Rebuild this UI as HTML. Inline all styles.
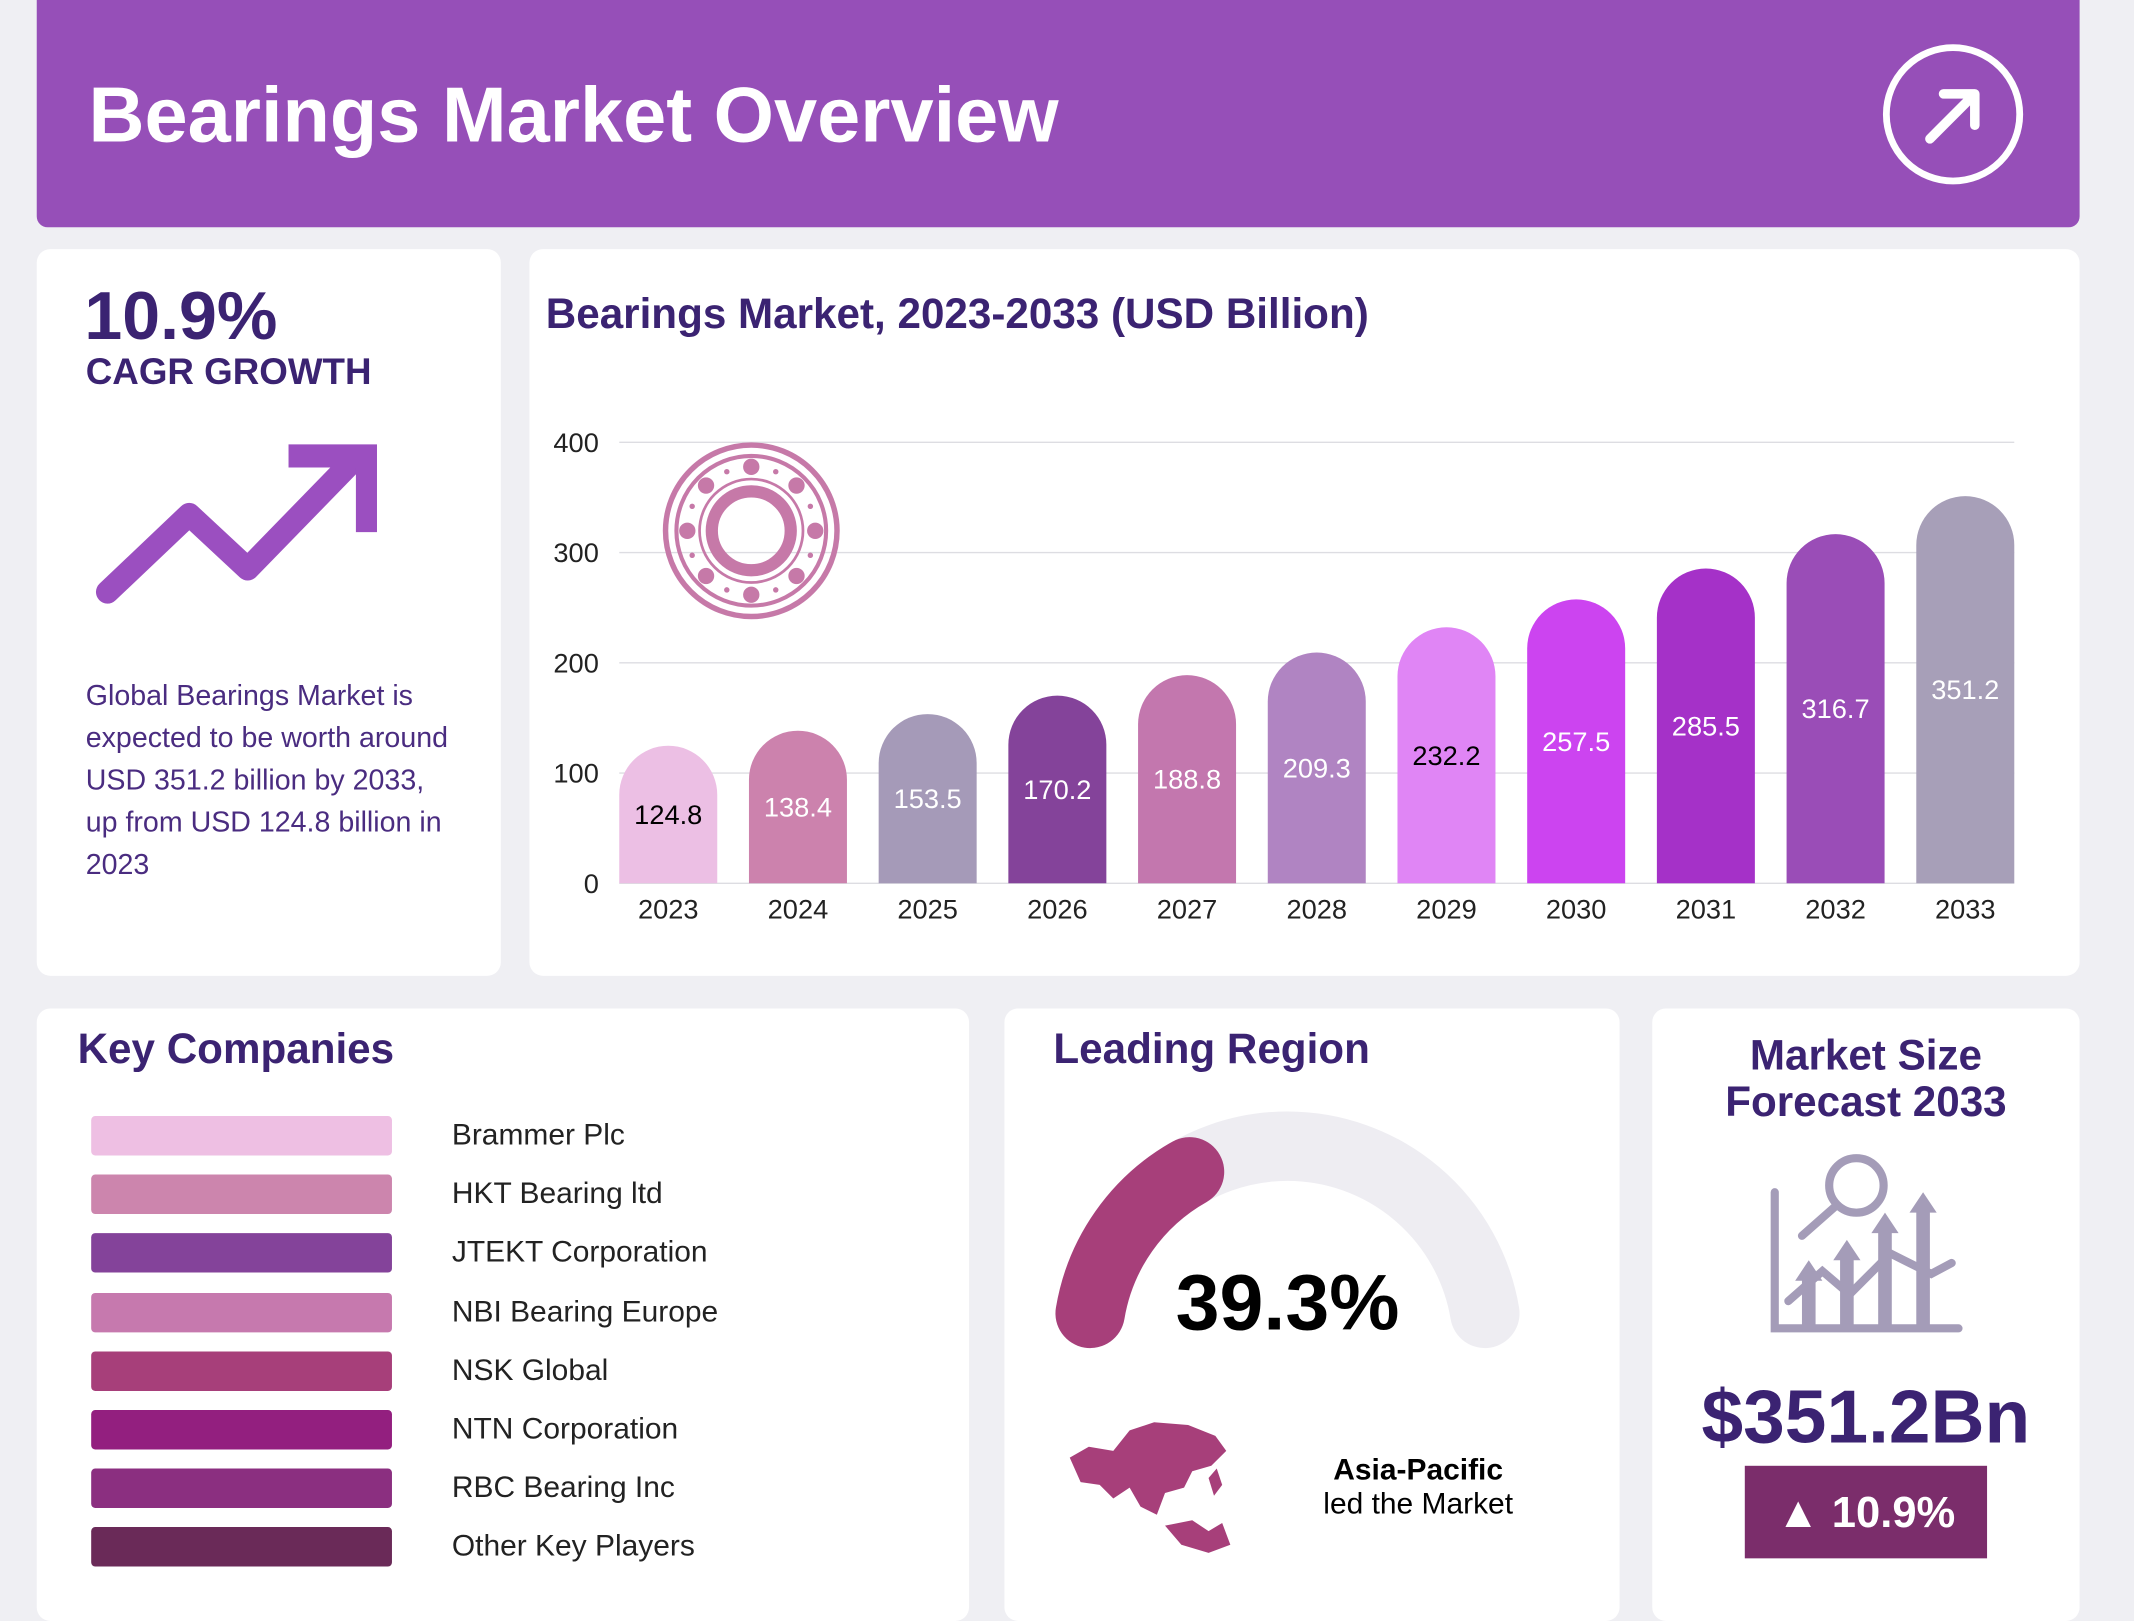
<!DOCTYPE html>
<html><head><meta charset="utf-8">
<style>
html,body{margin:0;padding:0;background:#efeff3;overflow:hidden}
body{width:2134px;height:1600px}
#root{position:absolute;left:0;top:0;width:1568px;height:1176px;transform:scale(1.3610);transform-origin:0 0;font-family:"Liberation Sans",sans-serif;background:#efeff3}
.card{position:absolute;background:#fff;border-radius:10px}
.abs{position:absolute}
.dk{color:#3b2372}
</style></head><body>
<div id="root">
 <div class="abs" style="left:27px;top:0;width:1501px;height:167px;background:#964fb8;border-radius:0 0 8px 8px">
  <div class="abs" style="left:38px;top:52px;font-size:57px;font-weight:bold;color:#fff">Bearings Market Overview</div>
  <svg class="abs" style="left:1355px;top:32px" width="106" height="106" viewBox="0 0 106 106">
   <circle cx="53" cy="52" r="49" fill="none" stroke="#fff" stroke-width="5"/>
   <path d="M36 70 L68 38 M46 37 L69 37 L69 60" fill="none" stroke="#fff" stroke-width="7" stroke-linecap="round" stroke-linejoin="round"/>
  </svg>
 </div>

 <div class="card" style="left:27px;top:183px;width:341px;height:534px">
  <div class="abs dk" style="left:35px;top:20px;font-size:50px;font-weight:bold">10.9%</div>
  <div class="abs dk" style="left:36px;top:75px;font-size:27px;font-weight:bold">CAGR GROWTH</div>
  <svg class="abs" style="left:40px;top:140px" width="210" height="125" viewBox="0 0 210 125">
   <path d="M12 112 L72 55 L115 95 L190 18" fill="none" stroke="#9b4fc0" stroke-width="17" stroke-linecap="round" stroke-linejoin="round"/>
   <path d="M145 12 L203 12 L203 68" fill="none" stroke="#9b4fc0" stroke-width="17" stroke-linejoin="miter"/>
  </svg>
  <div class="abs" style="left:36px;top:313px;width:275px;font-size:21px;line-height:31px;color:#4a2c80">Global Bearings Market is expected to be worth around USD 351.2 billion by 2033, up from USD 124.8 billion in 2023</div>
 </div>

 <div class="card" style="left:389px;top:183px;width:1139px;height:534px">
  <div class="abs dk" style="left:12px;top:30px;font-size:31px;font-weight:bold">Bearings Market, 2023-2033 (USD Billion)</div>
 </div>
 <svg id="chart" class="abs" style="left:389px;top:183px" width="1139" height="534"></svg>

 <div class="card" style="left:27px;top:741px;width:685px;height:450px">
  <div class="abs dk" style="left:30px;top:12px;font-size:31px;font-weight:bold">Key Companies</div>
  <div id="comp"></div>
 </div>

 <div class="card" style="left:738px;top:741px;width:452px;height:450px">
  <div class="abs dk" style="left:36px;top:12px;font-size:31px;font-weight:bold">Leading Region</div>
  <svg class="abs" style="left:0;top:0" width="452" height="450">
   <path d="M63 224 A147 147 0 0 1 353 224" fill="none" stroke="#eeedf2" stroke-width="51" stroke-linecap="round"/>
   <path d="M63 224 A147 147 0 0 1 136 120" fill="none" stroke="#a73f7a" stroke-width="51" stroke-linecap="round"/>
   <g fill="#a73f7a">
    <path d="M48 330 L62 322 L80 325 L92 310 L110 304 L135 306 L155 314 L163 325 L152 336 L138 340 L132 352 L118 356 L112 372 L100 366 L92 352 L80 360 L70 350 L56 348 Z"/>
    <path d="M118 380 L138 376 L150 384 L160 378 L166 394 L150 400 L130 394 Z"/>
    <path d="M150 345 L156 338 L160 350 L154 358 Z"/>
   </g>
  </svg>
  <div class="abs" style="left:0;top:183px;width:416px;text-align:center;font-size:58px;font-weight:bold;color:#000">39.3%</div>
  <div class="abs" style="left:204px;top:326px;width:200px;text-align:center;font-size:22px;font-weight:bold;color:#000;line-height:25px">Asia-Pacific</div>
  <div class="abs" style="left:204px;top:351px;width:200px;text-align:center;font-size:22px;color:#000;line-height:25px">led the Market</div>
 </div>

 <div class="card" style="left:1214px;top:741px;width:314px;height:450px">
  <div class="abs dk" style="left:0;top:18px;width:314px;text-align:center;font-size:31px;font-weight:bold;line-height:34px">Market Size<br>Forecast 2033</div>
  <svg class="abs" style="left:85px;top:105px" width="145" height="135" viewBox="0 0 145 135">
   <g fill="none" stroke="#a49cb8" stroke-width="6" stroke-linecap="round">
    <path d="M5 30 L5 130 L140 130"/>
    <circle cx="65" cy="25" r="20"/>
    <path d="M50 40 L25 62"/>
    <path d="M15 110 L40 88 L60 105 L90 75 L120 90 L135 82"/>
   </g>
   <g fill="#a49cb8">
    <path d="M20 95 L30 80 L40 95 L35 95 L35 128 L25 128 L25 95Z"/>
    <path d="M48 80 L58 65 L68 80 L63 80 L63 128 L53 128 L53 80Z"/>
    <path d="M76 60 L86 45 L96 60 L91 60 L91 128 L81 128 L81 60Z"/>
    <path d="M104 45 L114 30 L124 45 L119 45 L119 128 L109 128 L109 45Z"/>
   </g>
  </svg>
  <div class="abs dk" style="left:0;top:268px;width:314px;text-align:center;font-size:55px;font-weight:bold">$351.2Bn</div>
  <div class="abs" style="left:68px;top:336px;width:178px;height:68px;background:#7b2d6b;color:#fff;font-size:32px;font-weight:bold;text-align:center;line-height:68px">▲ 10.9%</div>
 </div>
</div>
<script>
const years=["2023","2024","2025","2026","2027","2028","2029","2030","2031","2032","2033"];
const values=[124.8,138.4,153.5,170.2,188.8,209.3,232.2,257.5,285.5,316.7,351.2];
const valueLabels=["124.8","138.4","153.5","170.2","188.8","209.3","232.2","257.5","285.5","316.7","351.2"];
const yTicks=[0,100,200,300,400];
const barColors=["#ecbfe4","#cc82ad","#a59ab8","#84439a","#c377ae","#b084c2","#e085f5","#cc44f0","#a531c8","#9a4db7","#a79fb8"];
const labelColors=["#000","#fff","#fff","#fff","#fff","#fff","#000","#fff","#fff","#fff","#fff"];
const companies=["Brammer Plc","HKT Bearing ltd","JTEKT Corporation","NBI Bearing Europe","NSK Global","NTN Corporation","RBC Bearing Inc","Other Key Players"];
const companyColors=["#eebfe3","#cc85ad","#84439a","#c679ae","#a73f7a","#931f7f","#8b2f80","#6a2a58"];

const NS="http://www.w3.org/2000/svg";
const svg=document.getElementById('chart');
const y0=466,pxPer=0.81,x0=66,pitch=95.3,bw=72;
const ys=v=>y0-v*pxPer;
const xs=i=>x0+i*pitch;
function mk(t,a){const e=document.createElementNS(NS,t);for(const k in a)e.setAttribute(k,a[k]);svg.appendChild(e);return e;}
yTicks.forEach(t=>{
 const l=mk('line',{x1:x0,x2:1091,y1:ys(t),y2:ys(t),stroke:'#dddde2','stroke-width':1});
 
 
 const tx=mk('text',{x:51,y:ys(t)+7,'text-anchor':'end','font-size':20,fill:'#222','font-family':'Liberation Sans'});
 tx.textContent=t;
 
 
});
(function(){
 const g=mk('g',{});
 
 
 const cx=163,cy=207,c='#c679a8';
 const add=(t,a)=>{const e=document.createElementNS(NS,t);for(const k in a)e.setAttribute(k,a[k]);g.appendChild(e);};
 add('circle',{cx,cy,r:63,fill:'none',stroke:c,'stroke-width':4});
 add('circle',{cx,cy,r:55,fill:'none',stroke:c,'stroke-width':3});
 add('circle',{cx,cy,r:29,fill:'none',stroke:c,'stroke-width':9});
 add('circle',{cx,cy,r:38,fill:'none',stroke:c,'stroke-width':2});
 for(let k=0;k<8;k++){const a=k*Math.PI/4;add('circle',{cx:cx+47*Math.cos(a),cy:cy+47*Math.sin(a),r:6,fill:c});
  const b=a+Math.PI/8;add('circle',{cx:cx+47*Math.cos(b),cy:cy+47*Math.sin(b),r:2,fill:c});}
})();
values.forEach((v,i)=>{
 const x=xs(i),top=ys(v),h=y0-top,r=Math.min(36,h);
 const p=mk('path',{d:`M${x} ${y0} L${x} ${top+r} A${bw/2} ${r} 0 0 1 ${x+bw} ${top+r} L${x+bw} ${y0} Z`,fill:barColors[i]});
 
 
 const lb=mk('text',{x:x+bw/2,y:ys(v/2)+7,'text-anchor':'middle','font-size':20,fill:labelColors[i],'font-family':'Liberation Sans'});
 lb.textContent=valueLabels[i];
 
 
 const xl=mk('text',{x:x+bw/2,y:y0+26,'text-anchor':'middle','font-size':20,fill:'#222','font-family':'Liberation Sans'});
 xl.textContent=years[i];
 
 
});
const comp=document.getElementById('comp');
companies.forEach((n,i)=>{
 const top=79+i*43.2;
 const s=document.createElement('div');
 s.className='abs';s.style.cssText=`left:40px;top:${top}px;width:221px;height:29px;border-radius:3px;background:${companyColors[i]}`;
 
 
 comp.appendChild(s);
 const t=document.createElement('div');
 t.className='abs';t.style.cssText=`left:305px;top:${top+1}px;font-size:22px;color:#222;line-height:26px`;
 t.textContent=n;
 
 
 comp.appendChild(t);
});
</script>
</body></html>
